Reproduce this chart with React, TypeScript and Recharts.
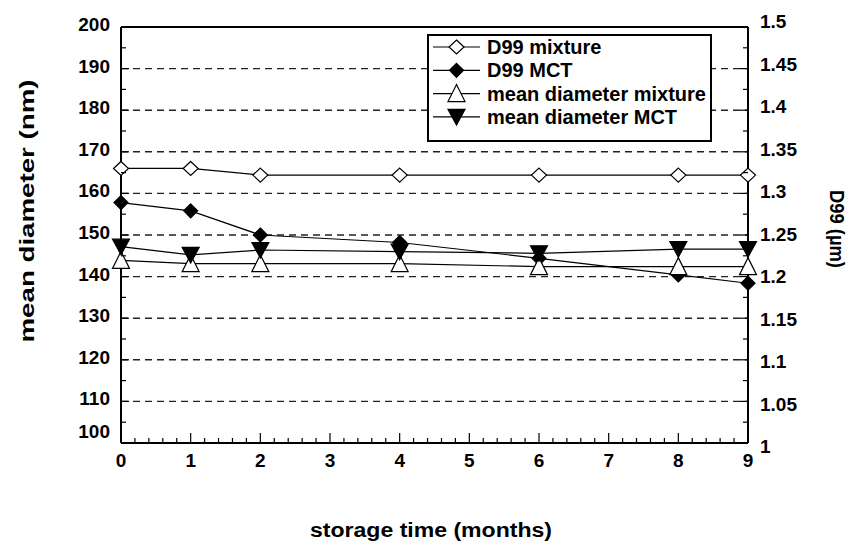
import React from "react";
import { LineChart, Line, XAxis, YAxis, ReferenceLine } from "recharts";

// storage time (months) and the four measured series
const months = [0, 1, 2, 4, 6, 8, 9];
const d99Mixture = [1.33, 1.33, 1.322, 1.322, 1.322, 1.322, 1.322];
const d99MCT = [1.289, 1.279, 1.25, 1.241, 1.222, 1.202, 1.192];
const meanMixture = [143.9, 143.1, 143.1, 143.1, 142.4, 142.4, 142.4];
const meanMCT = [147.2, 145.2, 146.4, 146.0, 145.6, 146.6, 146.6];

// axis ticks
const xMajor = [0, 1, 2, 3, 4, 5, 6, 7, 8, 9];
const leftMajor = [100, 110, 120, 130, 140, 150, 160, 170, 180, 190, 200];
const rightMajor = [1, 1.05, 1.1, 1.15, 1.2, 1.25, 1.3, 1.35, 1.4, 1.45, 1.5];
const gridValues = [110, 120, 130, 140, 150, 160, 170, 180, 190];

const data = months.map((m, i) => ({
  month: m,
  d99Mixture: d99Mixture[i],
  d99MCT: d99MCT[i],
  meanMixture: meanMixture[i],
  meanMCT: meanMCT[i],
}));

const xTicks = xMajor.flatMap((v, i) =>
  i === xMajor.length - 1 ? [v] : [0, 1, 2, 3, 4].map((k) => +(v + k * 0.2).toFixed(1))
);
const leftTicks = leftMajor.flatMap((v, i) => (i === leftMajor.length - 1 ? [v] : [v, v + 5]));
const rightTicks = rightMajor.flatMap((v, i) =>
  i === rightMajor.length - 1 ? [v] : [v, +(v + 0.025).toFixed(3)]
);

const FONT = "'Liberation Sans', Arial, sans-serif";
const INK = "#000";
const TICK_FS = 19;

const XTick = ({ x, y, payload }: any) => {
  const major = Number.isInteger(payload.value);
  return (
    <g>
      <line x1={x} x2={x} y1={y} y2={y - (major ? 10 : 5)} stroke={INK} strokeWidth={1.2} />
      {major && (
        <text x={x} y={y + 24} textAnchor="middle" fontSize={TICK_FS} fontWeight="bold" fontFamily={FONT} fill={INK}>
          {payload.value}
        </text>
      )}
    </g>
  );
};

const LeftTick = ({ x, y, payload }: any) => {
  const major = payload.value % 10 === 0;
  const dy = payload.value === 100 ? -5 : 4;
  return (
    <g>
      <line x1={x} x2={x + (major ? 8 : 5)} y1={y} y2={y} stroke={INK} strokeWidth={1.2} />
      {major && (
        <text x={x - 11} y={y + dy} textAnchor="end" fontSize={TICK_FS} fontWeight="bold" fontFamily={FONT} fill={INK}>
          {payload.value}
        </text>
      )}
    </g>
  );
};

const RightTick = ({ x, y, payload }: any) => {
  const v = payload.value;
  const major = Math.round(v * 1000) % 50 === 0;
  return (
    <g>
      <line x1={x} x2={x - (major ? 8 : 5)} y1={y} y2={y} stroke={INK} strokeWidth={1.2} />
      {major && (
        <text x={x + 12} y={y + 1 + (1.5 - v) * 18} fontSize={TICK_FS} fontWeight="bold" fontFamily={FONT} fill={INK}>
          {String(+v.toFixed(2))}
        </text>
      )}
    </g>
  );
};

// markers
const openDiamond = (cx: number, cy: number) =>
  `M${cx},${cy - 7} L${cx + 7.5},${cy} L${cx},${cy + 7} L${cx - 7.5},${cy} Z`;
const fullDiamond = (cx: number, cy: number) =>
  `M${cx},${cy - 7} L${cx + 7},${cy} L${cx},${cy + 7} L${cx - 7},${cy} Z`;
const upTri = (cx: number, cy: number) =>
  `M${cx},${cy - 9} L${cx + 8.5},${cy + 8} L${cx - 8.5},${cy + 8} Z`;
const downTri = (cx: number, cy: number) =>
  `M${cx - 8.5},${cy - 7.5} L${cx + 8.5},${cy - 7.5} L${cx},${cy + 8} Z`;

const markers: Record<string, { path: (x: number, y: number) => string; fill: string }> = {
  d99Mixture: { path: openDiamond, fill: "#fff" },
  d99MCT: { path: fullDiamond, fill: INK },
  meanMixture: { path: upTri, fill: "#fff" },
  meanMCT: { path: downTri, fill: INK },
};

const makeDot = (key: string) => (p: any) => {
  const m = markers[key];
  if (p.cx == null || p.cy == null) return <g key={p.index} />;
  return <path key={p.index} d={m.path(p.cx, p.cy)} fill={m.fill} stroke={INK} strokeWidth={1.2} />;
};

const legendItems = [
  { key: "d99Mixture", label: "D99 mixture" },
  { key: "d99MCT", label: "D99 MCT" },
  { key: "meanMixture", label: "mean diameter mixture" },
  { key: "meanMCT", label: "mean diameter MCT" },
];

export default function App() {
  return (
    <div style={{ position: "absolute", left: 0, top: 0, width: 859, height: 543, background: "#fff" }}>
      <LineChart width={859} height={543} data={data} margin={{ top: 27, right: 0, bottom: 0, left: 0 }}>
        <XAxis
          dataKey="month"
          type="number"
          domain={[0, 9]}
          ticks={xTicks}
          interval={0}
          height={100}
          tickSize={0}
          tickMargin={0}
          tickLine={false}
          tick={<XTick />}
          axisLine={{ stroke: INK, strokeWidth: 2 }}
        />
        <YAxis
          yAxisId="left"
          domain={[100, 200]}
          ticks={leftTicks}
          interval={0}
          width={121}
          tickSize={0}
          tickMargin={0}
          tickLine={false}
          tick={<LeftTick />}
          axisLine={{ stroke: INK, strokeWidth: 2 }}
        />
        <YAxis
          yAxisId="right"
          orientation="right"
          domain={[1, 1.5]}
          ticks={rightTicks}
          interval={0}
          width={111}
          tickSize={0}
          tickMargin={0}
          tickLine={false}
          tick={<RightTick />}
          axisLine={{ stroke: INK, strokeWidth: 2 }}
        />
        {gridValues.map((g) => (
          <ReferenceLine key={g} yAxisId="left" y={g} stroke="#222" strokeWidth={1.4} strokeDasharray="7 5" />
        ))}
        <ReferenceLine yAxisId="left" y={200} stroke={INK} strokeWidth={2} />
        <Line yAxisId="right" dataKey="d99Mixture" stroke={INK} strokeWidth={1.2} dot={makeDot("d99Mixture")} isAnimationActive={false} />
        <Line yAxisId="right" dataKey="d99MCT" stroke={INK} strokeWidth={1.2} dot={makeDot("d99MCT")} isAnimationActive={false} />
        <Line yAxisId="left" dataKey="meanMixture" stroke={INK} strokeWidth={1.2} dot={makeDot("meanMixture")} isAnimationActive={false} />
        <Line yAxisId="left" dataKey="meanMCT" stroke={INK} strokeWidth={1.2} dot={makeDot("meanMCT")} isAnimationActive={false} />
      </LineChart>

      {/* axis titles */}
      <svg width={859} height={543} style={{ position: "absolute", left: 0, top: 0, pointerEvents: "none" }}>
        <text
          transform="translate(34,211) rotate(-90)"
          textAnchor="middle"
          fontSize={20}
          fontWeight="bold"
          fontFamily={FONT}
          textLength={263}
          lengthAdjust="spacingAndGlyphs"
        >
          mean diameter (nm)
        </text>
        <text
          transform="translate(830,229) rotate(90)"
          textAnchor="middle"
          fontSize={21}
          fontWeight="bold"
          fontFamily={FONT}
          textLength={78}
          lengthAdjust="spacingAndGlyphs"
        >
          D99 (µm)
        </text>
        <text
          x={431}
          y={537}
          textAnchor="middle"
          fontSize={20}
          fontWeight="bold"
          fontFamily={FONT}
          textLength={242}
          lengthAdjust="spacingAndGlyphs"
        >
          storage time (months)
        </text>
      </svg>

      {/* legend */}
      <div
        style={{
          position: "absolute",
          left: 427,
          top: 34,
          width: 285,
          height: 108,
          border: "2px solid #000",
          boxSizing: "border-box",
          background: "#fff",
        }}
      >
        <svg width={281} height={104} style={{ display: "block" }}>
          {legendItems.map((it, i) => {
            const cy = 11 + i * 23.3;
            const m = markers[it.key];
            return (
              <g key={it.key}>
                <line x1={4} x2={51} y1={cy} y2={cy} stroke={INK} strokeWidth={1.2} />
                <path d={m.path(27.5, cy)} fill={m.fill} stroke={INK} strokeWidth={1.2} />
                <text x={58} y={cy + 7} fontSize={20} fontWeight="bold" fontFamily={FONT} fill={INK}>
                  {it.label}
                </text>
              </g>
            );
          })}
        </svg>
      </div>
    </div>
  );
}
